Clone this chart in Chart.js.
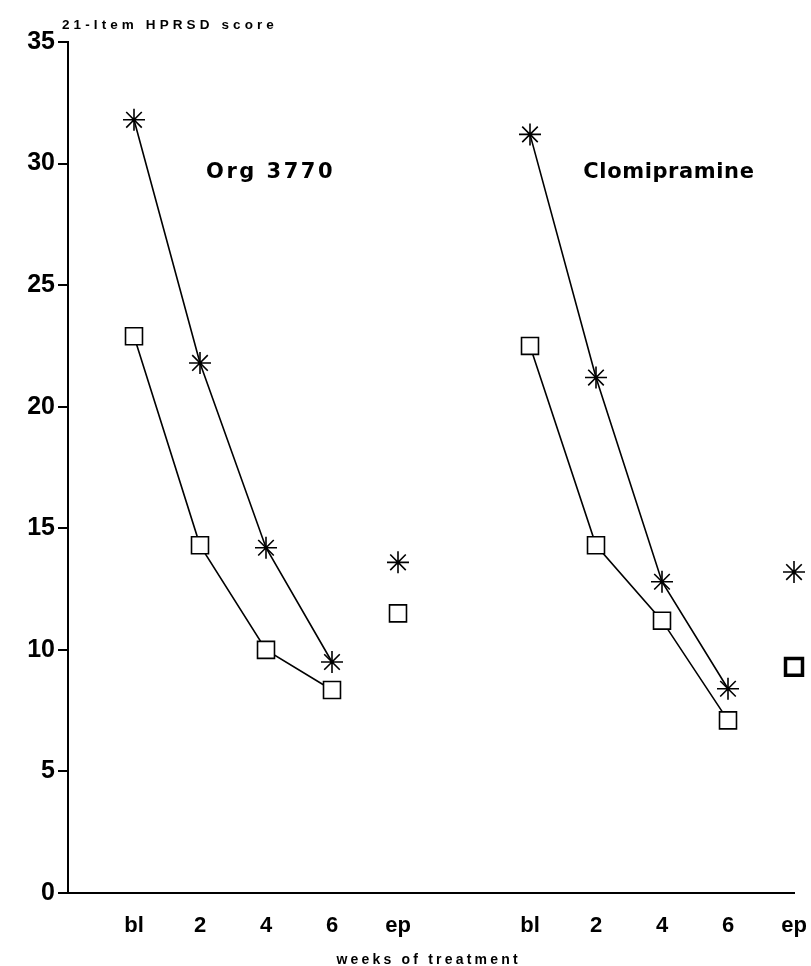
<!DOCTYPE html>
<html>
<head>
<meta charset="utf-8">
<script src="https://cdn.jsdelivr.net/npm/chart.js@4/dist/chart.umd.min.js"></script>
<style>
html,body{margin:0;padding:0;background:#fff;}
#wrap{width:811px;height:966px;}
</style>
</head>
<body>
<div id="wrap"><canvas id="c" width="811" height="966"></canvas></div>
<script>
// ---- data ----
const weeks = ['bl', '2', '4', '6', 'ep'];
const panels = ['Org 3770', 'Clomipramine'];
const yTicks = [0, 5, 10, 15, 20, 25, 30, 35];
// star series (bl, 2, 4, 6) and endpoint
const orgStar = [31.8, 21.8, 14.2, 9.5];
const orgStarEp = 13.6;
const orgSquare = [22.9, 14.3, 10.0, 8.35];
const orgSquareEp = 11.5;
const cloStar = [31.2, 21.2, 12.8, 8.4];
const cloStarEp = 13.2;
const cloSquare = [22.5, 14.3, 11.2, 7.1];
const cloSquareEp = 9.3;
const yTitle = '21-Item HPRSD score';
const xTitle = 'weeks of treatment';

// ---- build ----
const panelStart = [0, 6];
function linePts(vals, p) { return vals.map((v, i) => ({x: panelStart[p] + i, y: v})); }
function epPt(v, p) { return [{x: panelStart[p] + 4, y: v}]; }

const FONT = "'Liberation Sans', Arial, Helvetica, sans-serif";
const WIDE = "'DejaVu Sans', Verdana, sans-serif";
const starStyle = {pointStyle: 'star', pointRadius: 11, pointBorderWidth: 1.6, borderColor: '#000', pointBorderColor: '#000', backgroundColor: '#000'};
const sqStyle = {pointStyle: 'rect', pointRadius: 12, pointBorderWidth: 1.6, borderColor: '#000', pointBorderColor: '#000', pointBackgroundColor: '#fff', backgroundColor: '#fff'};

function ds(data, style, showLine, extra) {
  return Object.assign({data: data, showLine: showLine, borderWidth: 1.6, tension: 0, clip: false, fill: false}, style, extra || {});
}

const datasets = [
  ds(linePts(orgStar, 0), starStyle, true),
  ds(epPt(orgStarEp, 0), starStyle, false),
  ds(linePts(orgSquare, 0), sqStyle, true),
  ds(epPt(orgSquareEp, 0), sqStyle, false),
  ds(linePts(cloStar, 1), starStyle, true),
  ds(epPt(cloStarEp, 1), starStyle, false),
  ds(linePts(cloSquare, 1), sqStyle, true),
  ds(epPt(cloSquareEp, 1), sqStyle, false, {pointBorderWidth: 3.5}),
];

function tickLabel(v) {
  for (let p = 0; p < panelStart.length; p++) {
    const i = v - panelStart[p];
    if (i >= 0 && i < weeks.length && Number.isInteger(i)) return weeks[i];
  }
  return '';
}

function spacedText(ctx, text, x, y, ls, align) {
  ctx.letterSpacing = ls + 'px';
  const w = ctx.measureText(text).width - ls;
  ctx.textAlign = 'left';
  const x0 = align === 'center' ? x - w / 2 : x;
  ctx.fillText(text, x0, y);
}

const textPlugin = {
  id: 'texts',
  afterDraw(chart) {
    const ctx = chart.ctx;
    const xs = chart.scales.x, ys = chart.scales.y;
    ctx.save();
    ctx.fillStyle = '#000';
    ctx.textBaseline = 'alphabetic';
    // panel labels
    ctx.font = "bold 21px " + WIDE;
    const panelPos = [[2.05, 29.4], [8.1, 29.4]];
    const panelLs = [2.5, 0.6];
    panels.forEach((t, i) => {
      spacedText(ctx, t, xs.getPixelForValue(panelPos[i][0]), ys.getPixelForValue(panelPos[i][1]), panelLs[i], 'center');
    });
    // y title
    ctx.font = "bold 13.5px " + FONT;
    spacedText(ctx, yTitle, chart.chartArea.left - 6, chart.chartArea.top - 13, 4.1, 'left');
    // x title
    ctx.font = "bold 14px " + FONT;
    spacedText(ctx, xTitle, 427, 964, 3.2, 'center');
    ctx.restore();
  }
};

new Chart(document.getElementById('c'), {
  type: 'scatter',
  data: {datasets: datasets},
  plugins: [textPlugin],
  options: {
    responsive: false,
    animation: false,
    devicePixelRatio: 1,
    layout: {padding: {top: 42, right: 17, left: 0, bottom: 0}},
    plugins: {legend: {display: false}, tooltip: {enabled: false}, title: {display: false}},
    scales: {
      x: {
        type: 'linear',
        min: -1, max: 10,
        grid: {display: false},
        border: {display: true, color: '#000', width: 2},
        afterBuildTicks(scale) { scale.ticks = []; for (let v = -1; v <= 10; v++) scale.ticks.push({value: v}); },
        afterFit(scale) { scale.height = 73; scale.paddingRight = 0; scale.paddingLeft = 0; },
        ticks: {
          autoSkip: false, maxRotation: 0, padding: 12,
          color: '#000',
          font: {family: FONT, size: 22, weight: 'bold'},
          callback: (v) => tickLabel(v)
        }
      },
      y: {
        min: 0, max: 35,
        grid: {drawOnChartArea: false, drawTicks: true, tickLength: 10, color: '#000', lineWidth: 2},
        border: {display: true, color: '#000', width: 2},
        afterBuildTicks(scale) { scale.ticks = yTicks.map(v => ({value: v})); },
        afterFit(scale) { scale.width = 68; },
        ticks: {
          padding: 3, color: '#000',
          font: {family: FONT, size: 25, weight: 'bold'}
        }
      }
    }
  }
});
</script>
</body>
</html>
